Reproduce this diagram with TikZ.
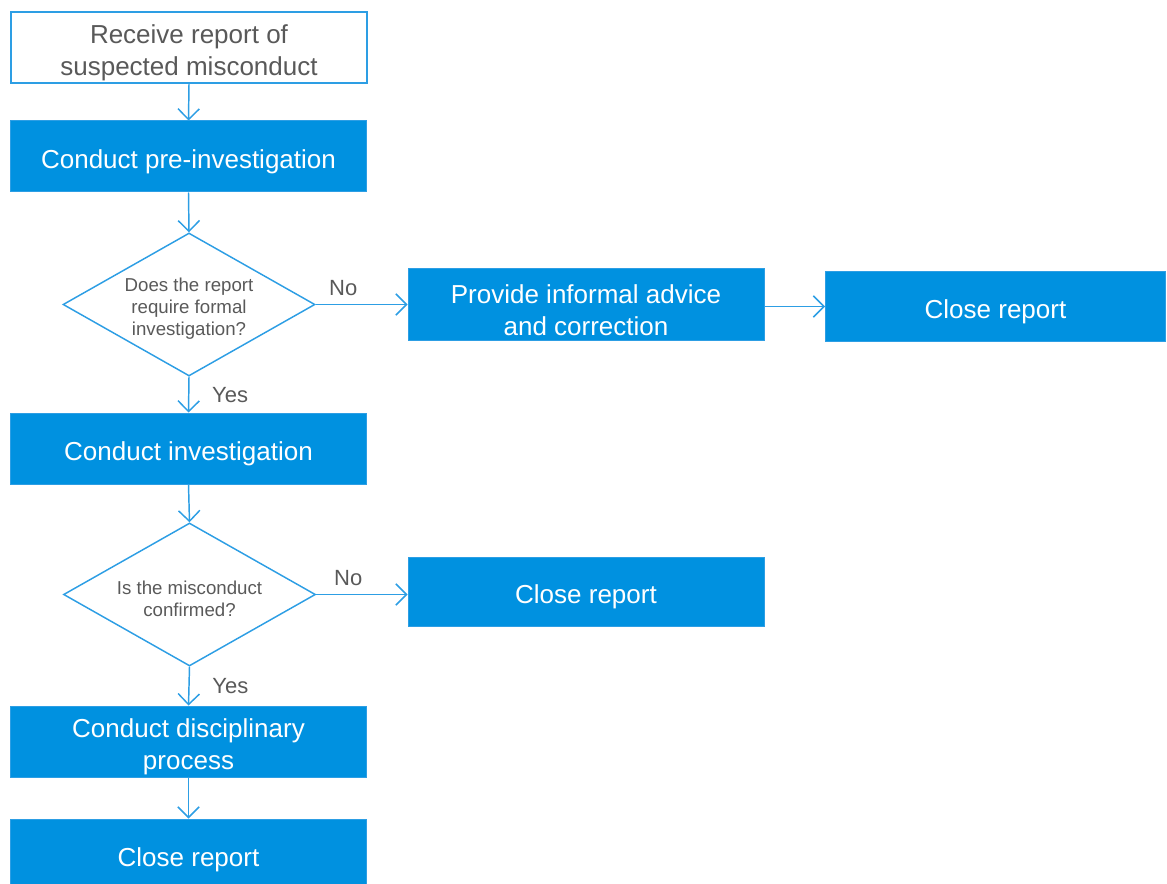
\documentclass[tikz,border=0pt]{standalone}
\usepackage{fontspec}
\setmainfont{Liberation Sans}
\usetikzlibrary{shapes.geometric,arrows.meta}
\definecolor{fblue}{RGB}{0,145,224}
\definecolor{lblue}{RGB}{45,158,228}
\definecolor{tgray}{RGB}{89,89,89}
\newcommand{\lowr}{\rule{0pt}{22.5pt}}
\tikzset{
  blubox/.style={rectangle, fill=fblue, draw=lblue, line width=0.75pt, text=white, align=center, inner sep=0pt,
     minimum width=267pt, minimum height=53.25pt, font=\fontsize{19.5}{24}\selectfont},
  whitebox/.style={blubox, fill=white, text=tgray, line width=1.3pt},
  decision/.style={diamond, shape aspect=1.76, draw=lblue, line width=1.1pt, inner sep=0pt,
     minimum width=189pt, minimum height=107.25pt},
  dtext/.style={text=tgray, align=center, inner sep=0pt, yshift=-3.5pt, font=\fontsize{14}{16.5}\selectfont},
  conn/.style={draw=lblue, line width=1.1pt, -{Straight Barb[length=8pt,width=16pt,line width=1.1pt]}},
  lbl/.style={text=tgray, font=\fontsize{16.5}{18}\selectfont, inner sep=0pt}
}
\begin{document}
\begin{tikzpicture}[x=0.75pt,y=-0.75pt]
\useasboundingbox (0,0) rectangle (1167,884);
\node[whitebox] (b1) at (189,47.5) {\lowr Receive report of\\suspected misconduct};
\node[blubox] (b2) at (188.5,156.5) {\lowr Conduct pre-investigation};
\node[decision] (d1) at (189,304.5) {};
\node[dtext] (d1t) at (d1.center) {Does the report\\require formal\\investigation?};
\node[blubox] (inf) at (586,304.5) {\lowr Provide informal advice\\and correction};
\node[blubox, minimum width=255pt, minimum height=51.75pt] (c1) at (995.5,306.5) {\lowr Close report};
\node[blubox] (b3) at (188.5,448.5) {\lowr Conduct investigation};
\node[decision] (d2) at (189.5,594.5) {};
\node[dtext] (d2t) at (d2.center) {Is the misconduct\\confirmed?};
\node[blubox, minimum height=51.75pt] (c2) at (586,591.5) {\lowr Close report};
\node[blubox] (b4) at (188.5,741.5) {\lowr Conduct disciplinary\\process};
\node[blubox] (b5) at (188.5,854.5) {\lowr Close report};
\draw[conn] (b1.south) -- (b2.north);
\draw[conn] (b2.south) -- (d1.north);
\draw[conn] (d1.east) -- (d1.east -| inf.west) node[lbl, pos=0.3, above=6pt] {No};
\draw[conn] (inf.east |- c1.west) -- (c1.west);
\draw[conn] (d1.south) -- (b3.north) node[lbl, midway, right=17pt] {Yes};
\draw[conn] (b3.south) -- (d2.north);
\draw[conn] (d2.east) -- (d2.east -| c2.west) node[lbl, pos=0.35, above=6pt] {No};
\draw[conn] (d2.south) -- (b4.north) node[lbl, midway, right=17pt] {Yes};
\draw[conn] (b4.south) -- (b5.north);
\end{tikzpicture}
\end{document}
